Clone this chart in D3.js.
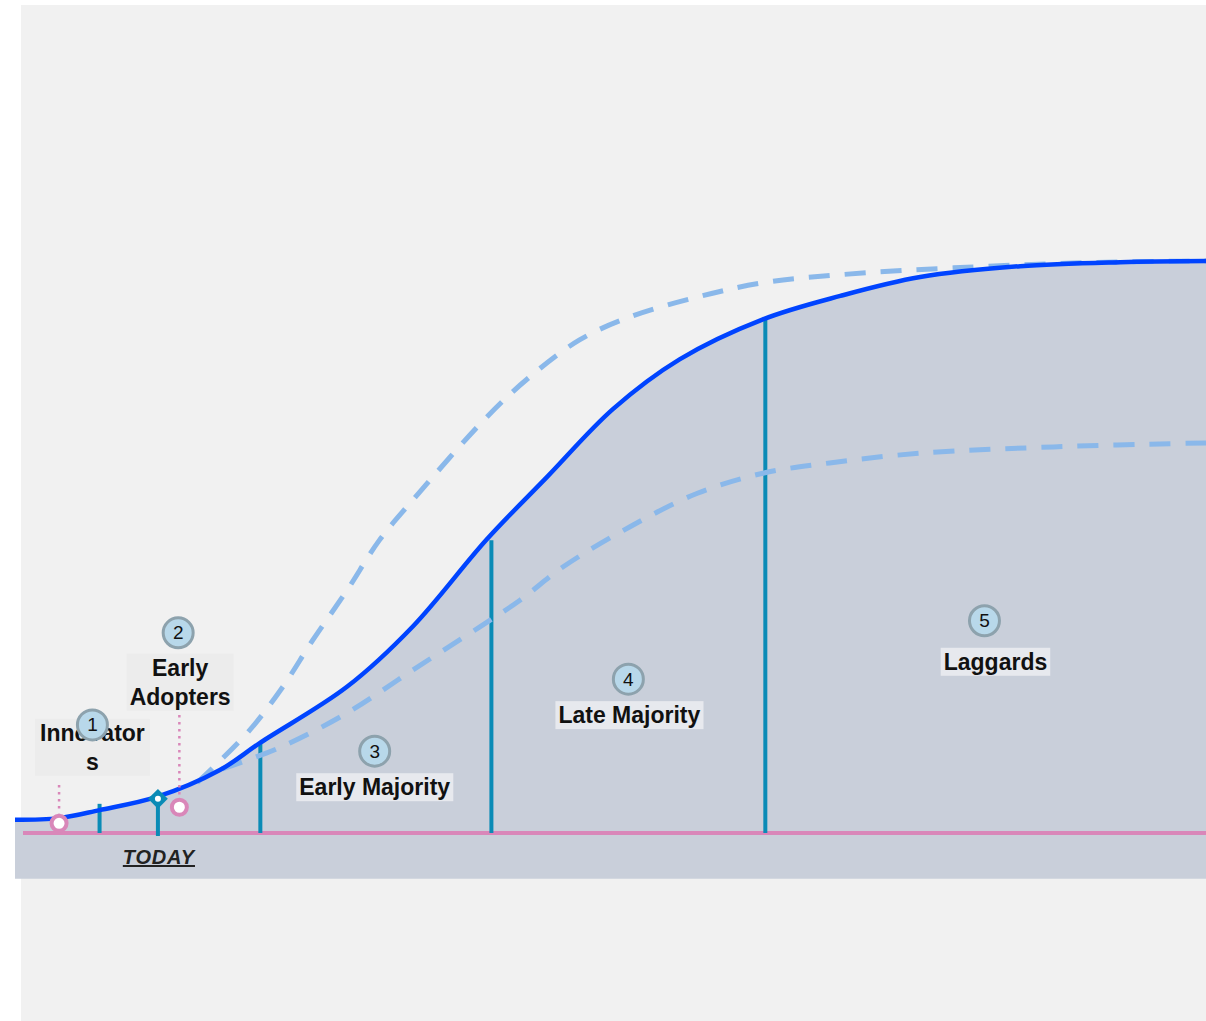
<!DOCTYPE html>
<html>
<head>
<meta charset="utf-8">
<script src="https://cdn.jsdelivr.net/npm/d3@7"></script>
<style>
  body { margin: 0; background: #ffffff; }
  svg text { font-family: "Liberation Sans", Arial, sans-serif; }
</style>
</head>
<body>
<svg id="chart" width="1206" height="1021"></svg>
<script>
// adoption curve (time 0..100, adoption % 0..100)
var mainT = [0, 3.7, 7.1, 11.9, 17.2, 20.6, 27.9, 33.4, 39.6, 44.7, 50.2, 55.8, 62.8, 69.3, 76.0, 84.4, 92.8, 100];
var mainA = [2.3, 2.6, 4.0, 6.3, 11.0, 15.8, 25.6, 36.1, 51.3, 62.3, 74.1, 82.8, 89.8, 93.9, 97.2, 99.1, 99.8, 100];

// faster scenario (upper dashed)
var upperT = [15.3, 19.5, 22.3, 25.0, 27.9, 30.6, 33.4, 39.6, 43.2, 47.4, 51.6, 57.3, 62.8, 69.3, 78.8, 90.0, 100];
var upperA = [8.8, 17.5, 25.0, 33.7, 42.5, 51.2, 58.2, 72.7, 79.7, 86.2, 90.2, 93.7, 96.2, 97.6, 98.8, 99.7, 100];

// lower scenario (lower dashed)
var lowerT = [17.4, 22.3, 27.9, 33.4, 39.0, 42.4, 46.0, 51.6, 57.3, 62.8, 68.4, 76.0, 87.2, 100];
var lowerA = [11.2, 15.0, 21.0, 28.5, 36.0, 40.7, 46.5, 53.5, 59.4, 62.9, 64.7, 66.4, 67.5, 68.2];

// stage boundaries
var stageT = [7.1, 12.0, 20.6, 40.0, 63.0];
var stageA = [5.1, 5.8, 15.7, 51.2, 89.7];

// segments
var segNum = ["1", "2", "3", "4", "5"];
var segName = [["Innovator", "s"], ["Early", "Adopters"], ["Early  Majority"], ["Late Majority"], ["Laggards"]];
var segT = [6.5, 13.7, 30.2, 51.5, 81.4];
var segA = [18.9, 35.0, 14.3, 26.9, 37.1];

// pink milestones
var markT = [3.7, 13.8];
var markA = [1.7, 4.5];
var todayT = 12.0;
var todayA = 5.8;

var svg = d3.select("#chart");
var x = d3.scaleLinear().domain([0, 100]).range([15, 1206]);
var y = d3.scaleLinear().domain([0, 100]).range([833, 261]);

var blue = "#0044ff", dash = "#8ab8ea", teal = "#0a8bb6", pink = "#d987b9";

// panel
svg.append("rect")
  .attr("x", 21).attr("y", 5)
  .attr("width", 1185).attr("height", 1016)
  .attr("fill", "#f1f1f1");

var mainPts = mainT.map(function(t, i){ return [t, mainA[i]]; });
var upperPts = upperT.map(function(t, i){ return [t, upperA[i]]; });
var lowerPts = lowerT.map(function(t, i){ return [t, lowerA[i]]; });

var curve = d3.curveCatmullRom.alpha(0.5);

// area under the curve
svg.append("path")
  .datum(mainPts)
  .attr("fill", "#c9cfda")
  .attr("d", d3.area()
    .x(function(d){ return x(d[0]); })
    .y0(y(-8))
    .y1(function(d){ return y(d[1]); })
    .curve(curve));

// baseline
svg.append("line")
  .attr("x1", 23).attr("x2", 1206)
  .attr("y1", y(0)).attr("y2", y(0))
  .attr("stroke", pink).attr("stroke-width", 4);

var line = d3.line()
  .x(function(d){ return x(d[0]); })
  .y(function(d){ return y(d[1]); })
  .curve(curve);

// stage lines
svg.selectAll(".stage")
  .data(stageT)
  .enter().append("line")
  .attr("class", "stage")
  .attr("x1", function(d){ return x(d); })
  .attr("x2", function(d){ return x(d); })
  .attr("y1", function(d, i){ return y(stageA[i]); })
  .attr("y2", function(d, i){ return i == 1 ? y(0) + 3 : y(0); })
  .attr("stroke", teal).attr("stroke-width", 4);

// dashed scenarios
[upperPts, lowerPts].forEach(function(pts){
  svg.append("path")
    .datum(pts)
    .attr("fill", "none")
    .attr("stroke", dash)
    .attr("stroke-width", 5)
    .attr("stroke-dasharray", "21,15")
    .attr("d", line);
});

// main curve
svg.append("path")
  .datum(mainPts)
  .attr("fill", "none")
  .attr("stroke", blue)
  .attr("stroke-width", 4.5)
  .attr("d", line);

// pink dotted leaders + circles
var leaderTop = [785, 715];
markT.forEach(function(t, i){
  svg.append("line")
    .attr("x1", x(t)).attr("x2", x(t))
    .attr("y1", leaderTop[i]).attr("y2", y(markA[i]) - 10)
    .attr("stroke", pink).attr("stroke-width", 2.5)
    .attr("stroke-dasharray", "2.5,4.5");
  svg.append("circle")
    .attr("cx", x(t)).attr("cy", y(markA[i]))
    .attr("r", 7.5)
    .attr("fill", "#ffffff")
    .attr("stroke", pink).attr("stroke-width", 4);
});

// today diamond
svg.append("rect")
  .attr("x", -7).attr("y", -7)
  .attr("width", 14).attr("height", 14)
  .attr("transform", "translate(" + x(todayT) + "," + (y(todayA) - 1) + ") rotate(45)")
  .attr("fill", teal);
svg.append("circle")
  .attr("cx", x(todayT)).attr("cy", y(todayA) - 1)
  .attr("r", 3).attr("fill", "#ffffff");

svg.append("text")
  .attr("x", x(todayT) + 1).attr("y", 864)
  .attr("text-anchor", "middle")
  .attr("font-size", 20).attr("font-weight", "bold").attr("font-style", "italic")
  .attr("letter-spacing", 0.8)
  .attr("text-decoration", "underline")
  .attr("fill", "#222")
  .text("TODAY");

// segment labels
var textDx = [0, 2, 0, 1, 11];
var textDy = [16, 43, 44, 44, 49];
var boxFill = ["#ececec", "#ececec", "#e7e9ee", "#e7e9ee", "#e7e9ee"];
segName.forEach(function(lines, i){
  var cx = x(segT[i]), cy = y(segA[i]);
  var g = svg.append("g");
  var box = g.append("rect").attr("fill", boxFill[i]);
  var txt = g.append("text")
    .attr("text-anchor", "middle")
    .attr("font-size", 23).attr("font-weight", "bold")
    .attr("fill", "#111");
  lines.forEach(function(s, k){
    txt.append("tspan")
      .attr("x", cx + textDx[i])
      .attr("y", cy + textDy[i] + k * 29)
      .text(s);
  });
  var bb = txt.node().getBBox();
  var padX = i == 0 ? 5 : 3;
  box.attr("x", bb.x - padX).attr("y", bb.y - 1)
    .attr("width", bb.width + padX * 2).attr("height", bb.height + 2);

  svg.append("circle")
    .attr("cx", cx).attr("cy", cy)
    .attr("r", 15)
    .attr("fill", "#b8d8ea")
    .attr("stroke", "#8da2ad").attr("stroke-width", 3);
  svg.append("text")
    .attr("x", cx).attr("y", cy + 6.5)
    .attr("text-anchor", "middle")
    .attr("font-size", 19)
    .attr("fill", "#111")
    .text(segNum[i]);
});
</script>
</body>
</html>
